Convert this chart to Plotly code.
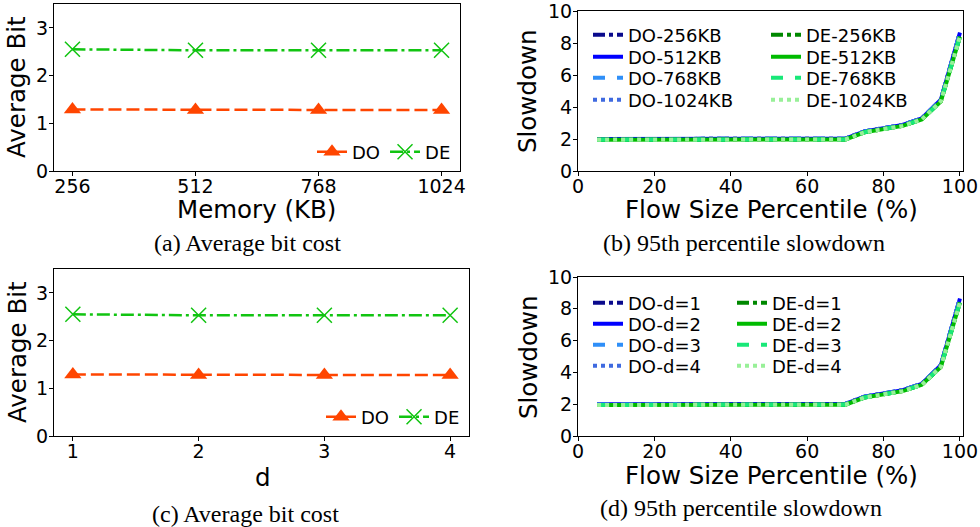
import plotly.graph_objects as go

# ---------------- data ----------------
mem_kb = [256, 512, 768, 1024]
d_vals = [1, 2, 3, 4]
bit_do_mem = [1.29, 1.28, 1.28, 1.28]
bit_de_mem = [2.55, 2.53, 2.53, 2.53]
bit_do_d = [1.29, 1.28, 1.28, 1.28]
bit_de_d = [2.55, 2.53, 2.53, 2.53]

pct = [5, 10, 15, 20, 25, 30, 35, 40, 45, 50, 55, 60, 65, 70, 75, 80, 85, 90, 95, 100]
sd_do = [2.0, 2.0, 2.0, 2.0, 2.0, 2.0, 2.0, 2.0, 2.0, 2.0, 2.0, 2.0, 2.0, 2.02, 2.48, 2.68, 2.88, 3.28, 4.45, 8.65]
sd_de = [1.95, 1.95, 1.95, 1.95, 1.95, 1.95, 1.95, 1.95, 1.95, 1.95, 1.95, 1.95, 1.95, 1.97, 2.42, 2.62, 2.82, 3.22, 4.35, 8.4]

mem_labels = ["256KB", "512KB", "768KB", "1024KB"]
d_labels = ["d=1", "d=2", "d=3", "d=4"]

do_colors = ["#0a0a8c", "#0000ff", "#2f8ff8", "#3f6ae0"]
de_colors = ["#008800", "#00bb00", "#18e878", "#98f098"]
dashes = ["dashdot", "solid", "dash", "dot"]

FONT = "DejaVu Sans"
SERIF = "Liberation Serif"
W, H = 980, 527


def px(x):
    return x / W


def py(y):
    return 1 - y / H


fig = go.Figure()
layout = {}
leg_font = dict(family=FONT, size=18, color="black")

# ---------- panels a and c ----------
for xs, do_v, de_v, xa, ya, leg, lx, ly in [
    (mem_kb, bit_do_mem, bit_de_mem, "x", "y", "legend", 456, 152),
    (d_vals, bit_do_d, bit_de_d, "x3", "y3", "legend2", 465, 417),
]:
    fig.add_trace(go.Scatter(
        x=xs, y=do_v, name="DO", mode="lines+markers", xaxis=xa, yaxis=ya, legend=leg,
        line=dict(color="#ff4500", width=2.5, dash="13px,5px"),
        marker=dict(symbol="triangle-up", size=15, color="#ff4500"),
    ))
    fig.add_trace(go.Scatter(
        x=xs, y=de_v, name="DE", mode="lines+markers", xaxis=xa, yaxis=ya, legend=leg,
        line=dict(color="#11c411", width=2.5, dash="13px,4px,3px,4px"),
        marker=dict(symbol="x-thin-open", size=15, line=dict(color="#11c411", width=1.5)),
    ))
    layout[leg] = dict(orientation="h", x=px(lx), y=py(ly), xanchor="right", yanchor="middle",
                       bgcolor="rgba(0,0,0,0)", font=leg_font, itemwidth=30, tracegroupgap=0)

# ---------- panels b and d (one legend per entry to place rows exactly) ----------
leg_idx = 3
for labels, xa, ya, rows, de_x in [
    (mem_labels, "x2", "y2", [35, 57, 78, 100], 806),
    (d_labels, "x4", "y4", [303, 324, 345, 366], 772),
]:
    for prefix, colors, text_x in [("DO-", do_colors, 628), ("DE-", de_colors, de_x)]:
        for i, lab in enumerate(labels):
            lname = "legend%d" % leg_idx
            leg_idx += 1
            fig.add_trace(go.Scatter(
                x=pct, y=sd_do if prefix == "DO-" else sd_de, name=prefix + lab, mode="lines",
                xaxis=xa, yaxis=ya, legend=lname,
                line=dict(color=colors[i], width=4, dash=dashes[i]),
            ))
            layout[lname] = dict(x=px(text_x - 40), y=py(rows[i]), xanchor="left", yanchor="middle",
                                 bgcolor="rgba(0,0,0,0)", font=leg_font, tracegroupgap=0)

axis_common = dict(
    showline=True, linecolor="black", linewidth=1, mirror=True, automargin=False,
    ticks="outside", ticklen=4, tickcolor="black", showgrid=False, zeroline=False,
    ticklabeloverflow="allow",
    tickfont=dict(family=FONT, size=19, color="black"),
)
xcommon = dict(axis_common, ticklabelstandoff=-6)
ycommon = dict(axis_common, ticklabelstandoff=-3)

layout.update(
    width=W, height=H, margin=dict(l=0, r=0, t=0, b=0, pad=0, autoexpand=False),
    paper_bgcolor="white", plot_bgcolor="white",
    font=dict(family=FONT, color="black"),
    xaxis=dict(xcommon, domain=[px(54), px(460)], anchor="y", range=[217.6, 1062.4],
               tickvals=mem_kb, ticktext=[str(v) for v in mem_kb]),
    yaxis=dict(ycommon, domain=[py(171), py(4)], anchor="x", range=[0, 3.5],
               tickvals=[0, 1, 2, 3]),
    xaxis2=dict(xcommon, domain=[px(578), px(963)], anchor="y2", range=[0, 100.8],
                tickvals=[0, 20, 40, 60, 80, 100]),
    yaxis2=dict(ycommon, domain=[py(171), py(11)], anchor="x2", range=[0, 10],
                tickvals=[0, 2, 4, 6, 8, 10]),
    xaxis3=dict(xcommon, domain=[px(54), px(469)], anchor="y3", range=[0.85, 4.15],
                tickvals=d_vals),
    yaxis3=dict(ycommon, domain=[py(436), py(269)], anchor="x3", range=[0, 3.5],
                tickvals=[0, 1, 2, 3]),
    xaxis4=dict(xcommon, domain=[px(578), px(963)], anchor="y4", range=[0, 100.8],
                tickvals=[0, 20, 40, 60, 80, 100]),
    yaxis4=dict(ycommon, domain=[py(436), py(277)], anchor="x4", range=[0, 10],
                tickvals=[0, 2, 4, 6, 8, 10]),
)

fig.update_layout(**layout)


def ann(text, x, y, size, family=FONT, angle=0):
    fig.add_annotation(text=text, x=px(x), y=py(y), xref="paper", yref="paper",
                       xanchor="center", yanchor="middle", showarrow=False, textangle=angle,
                       font=dict(family=family, size=size, color="black"))


ann("Memory (KB)", 256, 210, 24.5)
ann("Average Bit", 17, 87, 24.5, angle=-90)
ann("(a) Average bit cost", 248, 243, 24, family=SERIF)
ann("Flow Size Percentile (%)", 771, 210, 24.5)
ann("Slowdown", 528, 91, 24.5, angle=-90)
ann("(b) 95th percentile slowdown", 744, 243, 24, family=SERIF)
ann("d", 263, 477, 24.5)
ann("Average Bit", 17, 352, 24.5, angle=-90)
ann("(c) Average bit cost", 245, 514, 24, family=SERIF)
ann("Flow Size Percentile (%)", 771, 475, 24.5)
ann("Slowdown", 528, 357, 24.5, angle=-90)
ann("(d) 95th percentile slowdown", 741, 508, 24, family=SERIF)

fig.write_html("out.html", config={"displayModeBar": False},
               post_script="document.body.style.margin='0';")
